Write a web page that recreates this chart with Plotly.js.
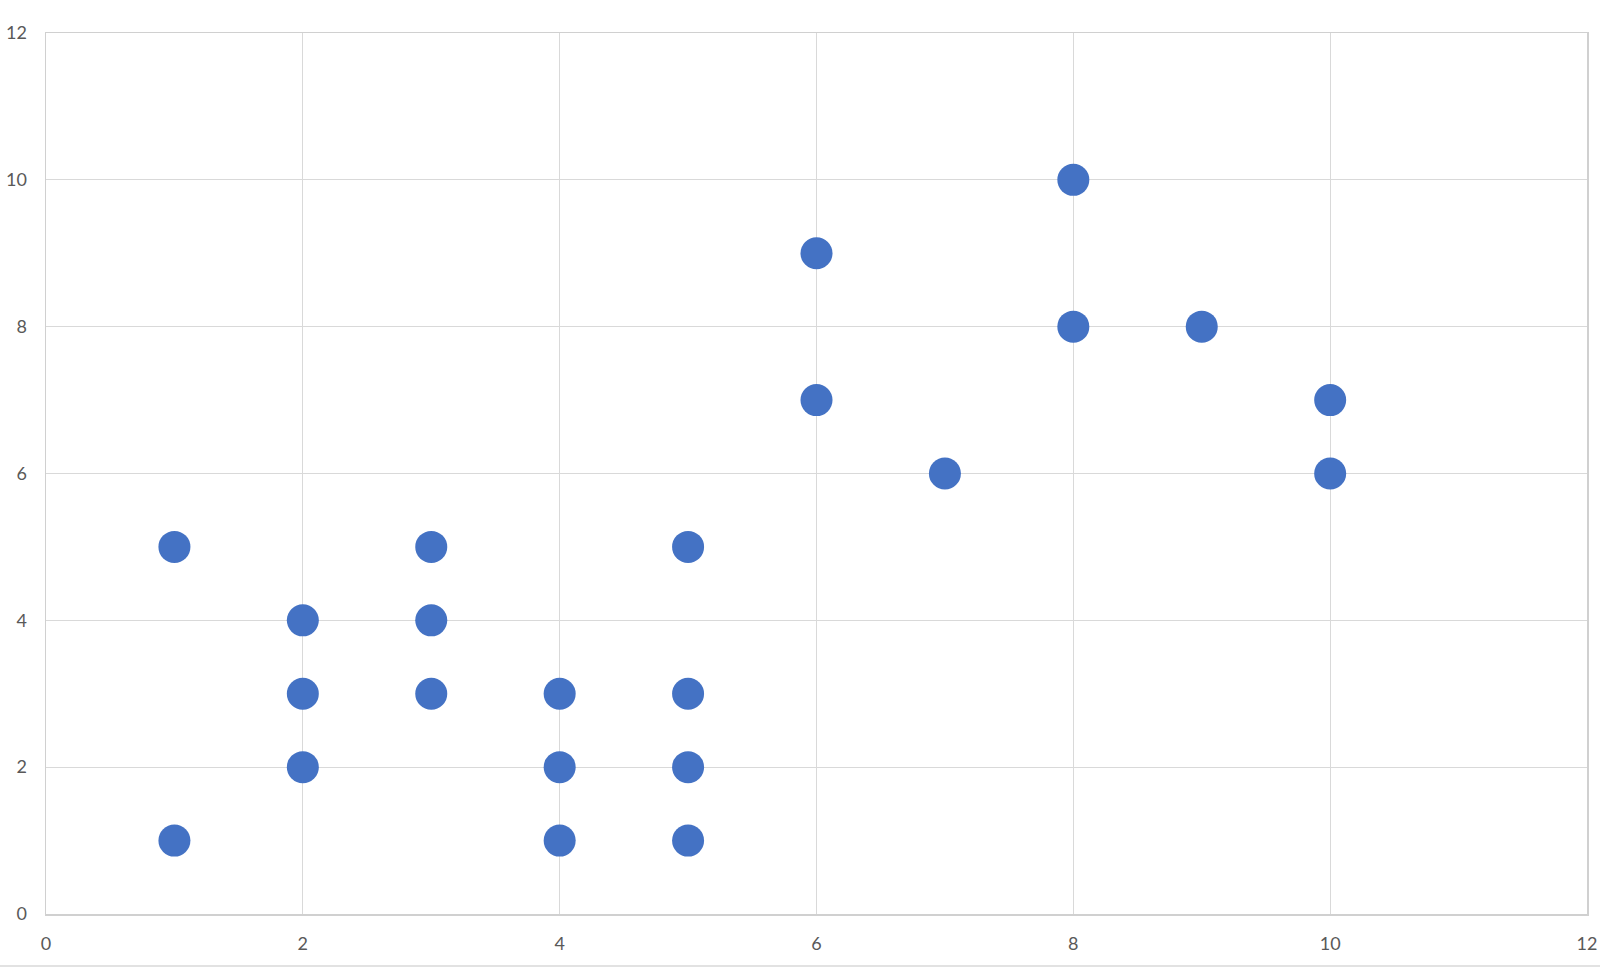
<!DOCTYPE html>
<html>
<head>
<meta charset="utf-8">
<script src="https://cdn.plot.ly/plotly-3.0.1.min.js"></script>
<style>html,body{margin:0;padding:0;background:#fff;}#chart{width:1600px;height:967px;}</style>
</head>
<body>
<div id="chart"></div>
<script>
const xValues = [1, 1, 2, 2, 2, 3, 3, 3, 4, 4, 4, 5, 5, 5, 5, 6, 6, 7, 8, 8, 9, 10, 10];
const yValues = [5, 1, 4, 3, 2, 5, 4, 3, 3, 2, 1, 5, 3, 2, 1, 9, 7, 6, 10, 8, 8, 7, 6];
const tickVals = [0, 2, 4, 6, 8, 10, 12];

const trace = {
  x: xValues,
  y: yValues,
  type: 'scatter',
  mode: 'markers',
  marker: {size: 32, color: '#4472C4', line: {width: 0}},
  hoverinfo: 'x+y'
};

const axisCommon = {
  range: [0, 12],
  tickvals: tickVals,
  showgrid: true,
  gridcolor: '#d9d9d9',
  gridwidth: 1,
  zeroline: false,
  showline: true,
  linecolor: '#d0d0d0',
  linewidth: 1.5,
  mirror: true,
  ticks: '',
  tickfont: {family: 'Lato, "Open Sans", sans-serif', size: 18, color: '#595959'},
  fixedrange: true
};

const layout = {
  width: 1600,
  height: 967,
  margin: {l: 46, r: 13, t: 33, b: 53},
  paper_bgcolor: '#ffffff',
  plot_bgcolor: '#ffffff',
  showlegend: false,
  xaxis: Object.assign({}, axisCommon, {ticklabelstandoff: 13}),
  yaxis: Object.assign({}, axisCommon, {ticklabelstandoff: 14}),
  shapes: [{
    type: 'line', xref: 'paper', yref: 'paper',
    x0: -46/1541, x1: 1 + 13/1541, y0: -52/881, y1: -52/881,
    line: {color: '#d9d9d9', width: 1.5}
  }]
};

Plotly.newPlot('chart', [trace], layout, {displayModeBar: false, staticPlot: true});
</script>
</body>
</html>
